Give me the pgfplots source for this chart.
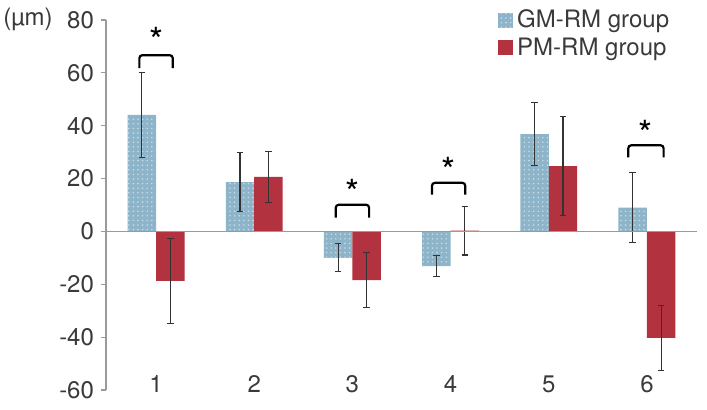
\documentclass[border=0pt]{standalone}
\usepackage{pgfplots}
\pgfplotsset{compat=1.18}
\usepackage{fontspec}
\setmainfont{TeX Gyre Heros}
\usetikzlibrary{patterns.meta}
\definecolor{gmblue}{HTML}{8DB4C8}
\definecolor{gmdot}{HTML}{C4DCE7}
\definecolor{pmred}{HTML}{B3323F}
\definecolor{txt}{HTML}{3A3A3A}
\definecolor{axgray}{HTML}{9A9A9A}
\definecolor{errc}{HTML}{333333}

% GM-RM group: bars placed left of each category (category - 0.145)
\pgfplotstableread{
x y e
0.855 44.1 16.0
1.855 18.7 11.3
2.855 -10.0 5.3
3.855 -13.1 4.1
4.855 36.8 12.0
5.855 9.0 13.3
}\gmdata
% PM-RM group: bars placed right of each category (category + 0.145)
\pgfplotstableread{
x y e
1.145 -18.7 16.0
2.145 20.6 9.6
3.145 -18.4 10.5
4.145 0.3 9.2
5.145 24.7 18.7
6.145 -40.3 12.3
}\pmdata

\begin{document}
\begin{tikzpicture}
\path[use as bounding box] (-53pt,-9.5pt) rectangle (300.5pt,195pt);
\begin{axis}[
  at={(0,0)}, anchor=south west,
  scale only axis, width=295.5pt, height=185pt,
  xmin=0.49, xmax=6.51, ymin=-60, ymax=80,
  axis y line*=left, axis x line*=bottom,
  x axis line style={draw=none},
  y axis line style={axgray, line width=0.6pt},
  xtick={1,2,3,4,5,6}, xtick style={draw=none},
  ytick={-60,-40,-20,0,20,40,60,80},
  ytick style={axgray, line width=0.6pt},
  tick align=outside, major tick length=2.5pt,
  /pgf/number format/assume math mode=true,
  ticklabel style={font=\fontsize{12}{14}\selectfont, text=txt},
  xticklabel style={anchor=center, yshift=5.5pt},
  clip=false,
  legend style={draw=none, fill=none, at={(rel axis cs:0.663,1.04)}, anchor=north west,
    font=\fontsize{12}{14}\selectfont, text=txt, row sep=-0.5pt, inner sep=0pt},
  legend cell align=left,
  legend image code/.code={\fill[#1] (0pt,-3.75pt) rectangle (7.5pt,3.75pt);},
  error bars/error bar style={errc, line width=0.6pt},
  error bars/error mark options={errc, line width=0.6pt, mark size=1.6pt, rotate=90},
]
\addplot[ybar, fill=gmblue, draw=none, bar width=0.29, bar shift=0pt,
  postaction={pattern={Dots[distance=2.3pt, radius=0.45pt]}, pattern color=gmdot},
  error bars/.cd, y dir=both, y explicit]
  table[x=x, y=y, y error=e] {\gmdata};
\addlegendentry{GM-RM group}
\addplot[ybar, fill=pmred, draw=none, bar width=0.29, bar shift=0pt,
  error bars/.cd, y dir=both, y explicit]
  table[x=x, y=y, y error=e] {\pmdata};
\addlegendentry{PM-RM group}
\draw[axgray, line width=0.6pt] (axis cs:0.49,0) -- (axis cs:6.51,0);
% significance brackets
\draw[black, line width=1.1pt, rounded corners=1.5pt] (axis cs:0.83,61.8) -- (axis cs:0.83,66.7) -- (axis cs:1.17,66.7) -- (axis cs:1.17,61.8);
\draw[black, line width=1.1pt, rounded corners=1.5pt] (axis cs:2.83,5.2) -- (axis cs:2.83,10.1) -- (axis cs:3.17,10.1) -- (axis cs:3.17,5.2);
\draw[black, line width=1.1pt, rounded corners=1.5pt] (axis cs:3.81,13.9) -- (axis cs:3.81,18.4) -- (axis cs:4.15,18.4) -- (axis cs:4.15,13.9);
\draw[black, line width=1.1pt, rounded corners=1.5pt] (axis cs:5.81,28.0) -- (axis cs:5.81,32.6) -- (axis cs:6.17,32.6) -- (axis cs:6.17,28.0);
\node[anchor=north, inner sep=0pt, font=\fontsize{18}{18}\selectfont] at (axis cs:1.0,77.5) {*};
\node[anchor=north, inner sep=0pt, font=\fontsize{18}{18}\selectfont] at (axis cs:3.0,19.9) {*};
\node[anchor=north, inner sep=0pt, font=\fontsize{18}{18}\selectfont] at (axis cs:3.98,28.1) {*};
\node[anchor=north, inner sep=0pt, font=\fontsize{18}{18}\selectfont] at (axis cs:5.99,42.3) {*};
\end{axis}
\node[anchor=east, inner sep=0pt, text=txt, font=\fontsize{12}{14}\selectfont] at (-26.5pt,185.5pt) {(µm)};
\end{tikzpicture}
\end{document}
